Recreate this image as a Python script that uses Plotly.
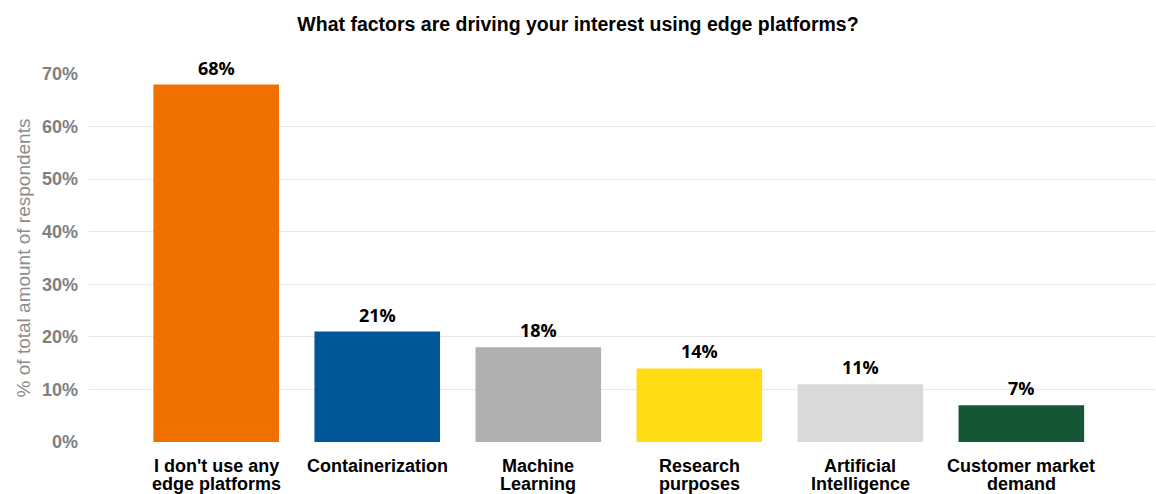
import plotly.graph_objects as go

# Survey results: share of respondents per driver of edge-platform interest
categories = [
    "I don't use any<br>edge platforms",
    "Containerization",
    "Machine<br>Learning",
    "Research<br>purposes",
    "Artificial<br>Intelligence",
    "Customer market<br>demand",
]
values = [68, 21, 18, 14, 11, 7]
bar_colors = ["#F07000", "#005696", "#B0B0B0", "#FFDC14", "#D9D9D9", "#155734"]
y_ticks = [0, 10, 20, 30, 40, 50, 60, 70]
y_tick_labels = [f"{t}%" for t in y_ticks]

fig = go.Figure(
    go.Bar(
        x=categories,
        y=values,
        marker=dict(color=bar_colors, line=dict(width=0)),
        width=0.78,
        hoverinfo="skip",
    )
)

# Value labels above each bar
for cat, val in zip(categories, values):
    fig.add_annotation(
        x=cat, y=val, text=f"<b>{val}%</b>", showarrow=False,
        yanchor="bottom", yshift=3,
        font=dict(family="Open Sans", size=18, color="#000000"),
    )

# Category labels under the axis, one annotation per line for tight line spacing
for cat in categories:
    for i, line in enumerate(cat.split("<br>")):
        fig.add_annotation(
            x=cat, y=0, text=f"<b>{line}</b>", showarrow=False,
            yanchor="middle", yshift=-24 - 18 * i,
            font=dict(family="Liberation Sans", size=18, color="#000000"),
        )

fig.update_layout(
    width=1156, height=494,
    margin=dict(l=89, r=1, t=74, b=52),
    paper_bgcolor="white", plot_bgcolor="white",
    title=dict(
        text="<b>What factors are driving your interest using edge platforms?</b>",
        x=0.5, xanchor="center", y=0.951, yanchor="middle",
        font=dict(family="Liberation Sans", size=19.5, color="#000000"),
    ),
    showlegend=False,
    xaxis=dict(
        range=[-0.79, 5.83],
        showgrid=False, showline=False, zeroline=False, ticks="",
        showticklabels=False,
        automargin=False,
    ),
    yaxis=dict(
        range=[0, 70],
        tickvals=y_ticks, ticktext=[f"<b>{t}</b>" for t in y_tick_labels],
        showgrid=True, gridcolor="#E6E6E6", gridwidth=1,
        showline=False, zeroline=False, ticks="",
        tickfont=dict(family="Liberation Sans", size=18, color="#808080"),
        ticklabelstandoff=10,
        title=dict(
            text="% of total amount of respondents", standoff=6,
            font=dict(family="Liberation Sans", size=19, color="#8C8C8C"),
        ),
        automargin=False,
    ),
)

fig.write_html("out.html")
